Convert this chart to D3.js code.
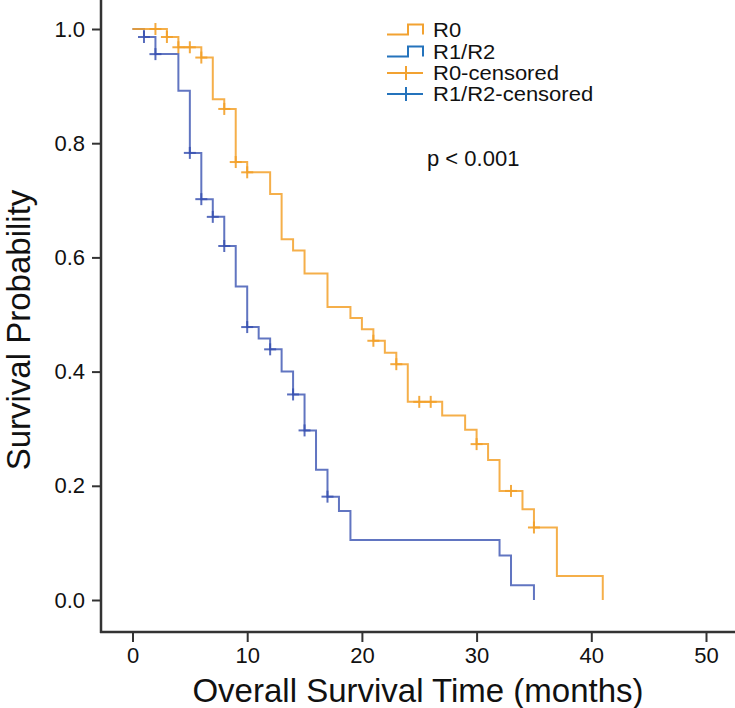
<!DOCTYPE html>
<html>
<head>
<meta charset="utf-8">
<script src="https://cdn.jsdelivr.net/npm/d3@7"></script>
<style>
  html, body { margin: 0; padding: 0; background: #fff; }
  svg text { font-family: "Liberation Sans", Arial, sans-serif; fill: #111; }
</style>
</head>
<body>
<svg id="chart" width="735" height="708"></svg>
<script>
// ---- data ----
const r0Times = [0, 3, 4, 6, 7, 8, 9, 10, 12, 13, 14, 15, 17, 19, 20, 21, 22, 23, 24, 27, 29, 30, 31, 32, 34, 35, 37, 41];
const r0Surv  = [1.0, 0.986, 0.968, 0.950, 0.877, 0.860, 0.767, 0.749, 0.711, 0.632, 0.612, 0.572, 0.513, 0.494, 0.474, 0.454, 0.433, 0.413, 0.347, 0.323, 0.298, 0.273, 0.245, 0.191, 0.159, 0.127, 0.042, 0.0];
const r0CensTimes = [2, 3, 4, 5, 6, 8, 9, 10, 21, 23, 25, 26, 30, 33, 35];

const r12Times = [0, 1, 2, 4, 5, 6, 7, 8, 9, 10, 11, 12, 13, 14, 15, 16, 17, 18, 19, 32, 33, 35];
const r12Surv  = [1.0, 0.986, 0.956, 0.892, 0.783, 0.702, 0.671, 0.620, 0.549, 0.478, 0.458, 0.439, 0.400, 0.360, 0.297, 0.228, 0.181, 0.156, 0.105, 0.078, 0.026, 0.0];
const r12CensTimes = [1, 2, 5, 6, 7, 8, 10, 12, 14, 15, 17];

const xTicks = [0, 10, 20, 30, 40, 50];
const yTicks = [0.0, 0.2, 0.4, 0.6, 0.8, 1.0];
const legendLabels = ["R0", "R1/R2", "R0-censored", "R1/R2-censored"];
const pText = "p < 0.001";
const xTitle = "Overall Survival Time (months)";
const yTitle = "Survival Probability";

// ---- layout ----
const orangeLine = "#F3A12A";
const blueLine = "#3A52B2";
const orangeLeg = "#F2A231";
const blueLeg = "#2473BC";
const axisColor = "#333";

const svg = d3.select("#chart");
const x = d3.scaleLinear().domain([0, 50]).range([132.5, 706]);
const y = d3.scaleLinear().domain([0, 1]).range([600, 29]);
const axisX = 101, axisY = 632;

function stepPath(times, surv) {
  let p = `M${x(times[0])},${y(surv[0])}`;
  for (let i = 1; i < times.length; i++) {
    p += `H${x(times[i])}V${y(surv[i])}`;
  }
  return p;
}
function survAt(times, surv, t) {
  let s = surv[0];
  for (let i = 0; i < times.length; i++) if (times[i] <= t) s = surv[i];
  return s;
}

// axes
const gx = svg.append("g").attr("transform", `translate(0,${axisY})`)
  .call(d3.axisBottom(x).tickValues(xTicks).tickFormat(d3.format("d")).tickSize(10).tickPadding(5));
gx.select(".domain").remove();
gx.selectAll(".tick line").attr("stroke", axisColor).attr("stroke-width", 2);
gx.selectAll(".tick text").attr("font-size", 22).attr("fill", "#111")
  .style("font-family", "Liberation Sans, Arial, sans-serif");

const gy = svg.append("g").attr("transform", `translate(${axisX},0)`)
  .call(d3.axisLeft(y).tickValues(yTicks).tickFormat(d3.format(".1f")).tickSize(9).tickPadding(7));
gy.select(".domain").remove();
gy.selectAll(".tick line").attr("stroke", axisColor).attr("stroke-width", 2);
gy.selectAll(".tick text").attr("font-size", 22).attr("fill", "#111")
  .style("font-family", "Liberation Sans, Arial, sans-serif");

svg.append("line").attr("x1", axisX).attr("x2", axisX).attr("y1", 0).attr("y2", axisY + 1)
  .attr("stroke", axisColor).attr("stroke-width", 2.5);
svg.append("line").attr("x1", axisX - 1).attr("x2", 735).attr("y1", axisY).attr("y2", axisY)
  .attr("stroke", axisColor).attr("stroke-width", 2.5);

// titles
svg.append("text").attr("x", 418).attr("y", 702)
  .attr("text-anchor", "middle").attr("font-size", 33).text(xTitle);
svg.append("text").attr("transform", `translate(30,330) rotate(-90)`)
  .attr("text-anchor", "middle").attr("font-size", 33).text(yTitle);

// curves
svg.append("path").attr("d", stepPath(r12Times, r12Surv))
  .attr("fill", "none").attr("stroke", blueLine).attr("stroke-width", 2).attr("stroke-opacity", 0.8);
svg.append("path").attr("d", stepPath(r0Times, r0Surv))
  .attr("fill", "none").attr("stroke", orangeLine).attr("stroke-width", 2).attr("stroke-opacity", 0.85);

// censor marks
function drawCens(times, stepT, stepS, color, op) {
  const g = svg.append("g").attr("stroke", color).attr("stroke-width", 2).attr("stroke-opacity", op);
  times.forEach(t => {
    const cx = x(t), cy = y(survAt(stepT, stepS, t));
    g.append("line").attr("x1", cx - 6).attr("x2", cx + 6).attr("y1", cy).attr("y2", cy);
    g.append("line").attr("x1", cx).attr("x2", cx).attr("y1", cy - 6).attr("y2", cy + 6);
  });
}
drawCens(r12CensTimes, r12Times, r12Surv, blueLine, 0.85);
drawCens(r0CensTimes, r0Times, r0Surv, orangeLine, 0.9);

// legend
const legX = 387, legW = 36, rowY = [29.5, 51.5, 73, 94];
const legColors = [orangeLeg, blueLeg, orangeLeg, blueLeg];
const leg = svg.append("g");
legendLabels.forEach((lab, i) => {
  const cy = rowY[i];
  if (i < 2) {
    leg.append("path")
      .attr("d", `M${legX},${cy + 5}H${legX + 21}V${cy - 5}H${legX + legW}V${cy + 5}`)
      .attr("fill", "none").attr("stroke", legColors[i]).attr("stroke-width", 2);
  } else {
    leg.append("line").attr("x1", legX).attr("x2", legX + legW).attr("y1", cy).attr("y2", cy)
      .attr("stroke", legColors[i]).attr("stroke-width", 2);
    leg.append("line").attr("x1", legX + 19).attr("x2", legX + 19).attr("y1", cy - 7).attr("y2", cy + 7)
      .attr("stroke", legColors[i]).attr("stroke-width", 2);
  }
  leg.append("text").attr("transform", `translate(433,${cy}) scale(1.1,1)`).attr("dy", "0.36em")
    .attr("font-size", 20).text(lab);
});

svg.append("text").attr("x", 427).attr("y", 158).attr("dy", "0.36em")
  .attr("font-size", 22).text(pText);
</script>
</body>
</html>
